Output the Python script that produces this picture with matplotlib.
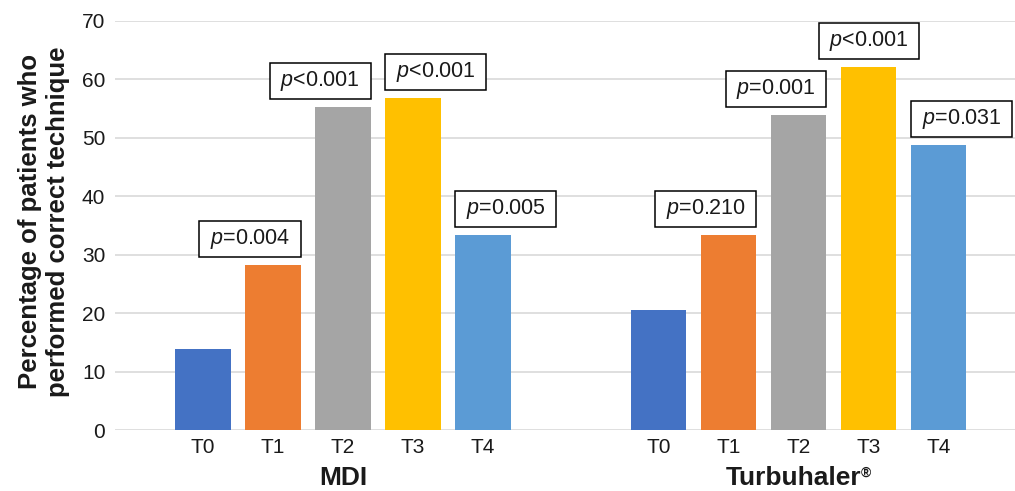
import matplotlib
matplotlib.use("Agg")
import matplotlib.pyplot as plt
from matplotlib.path import Path
import numpy as np

# ---- data ----
groups = ["MDI", "Turbuhaler"]
timepoints = ["T0", "T1", "T2", "T3", "T4"]
mdi_values = [13.8, 28.2, 55.3, 56.8, 33.3]
turbu_values = [20.6, 33.3, 53.8, 62.0, 48.7]
mdi_pvalues = [None, "=0.004", "<0.001", "<0.001", "=0.005"]
turbu_pvalues = [None, "=0.210", "=0.001", "<0.001", "=0.031"]
yticks = [0, 10, 20, 30, 40, 50, 60, 70]
ylabel = "Percentage of patients who\nperformed correct technique"

# ---- style ----
colors = ["#4472C4", "#ED7D31", "#A5A5A5", "#FFC000", "#5B9BD5"]
mdi_align = [None, "right", "right", "left", "left"]
turbu_align = [None, "right", "right", "center", "left"]

plt.rcParams["font.family"] = ["Liberation Sans", "DejaVu Sans"]
plt.rcParams["mathtext.fontset"] = "custom"
plt.rcParams["mathtext.rm"] = "Liberation Sans"
plt.rcParams["mathtext.it"] = "Liberation Sans:italic"
plt.rcParams["mathtext.bf"] = "Liberation Sans:bold"

TXT = "#1a1a1a"
GRID = "#D9D9D9"

fig = plt.figure(figsize=(10.15, 4.91), dpi=100)
ax = fig.add_axes([115 / 1015, (491 - 430) / 491, (1015 - 115) / 1015, (430 - 20.7) / 491])

GROUP_GAP = 6.514
BAR_W = 0.786
PADX, PADY = 10.5, 6.0


def rect_box(x0, y0, width, height, mutation_size):
    x0 -= PADX
    y0 -= PADY
    w = width + 2 * PADX
    h = height + 2 * PADY
    return Path([(x0, y0), (x0 + w, y0), (x0 + w, y0 + h), (x0, y0 + h), (x0, y0)], closed=True)


all_values = [mdi_values, turbu_values]
all_p = [mdi_pvalues, turbu_pvalues]
all_align = [mdi_align, turbu_align]
for g, vals in enumerate(all_values):
    xs = g * GROUP_GAP + np.arange(len(timepoints))
    ax.bar(xs, vals, width=BAR_W, color=colors, zorder=3)
    for x, v, p, al in zip(xs, vals, all_p[g], all_align[g]):
        if p is None:
            continue
        if al == "right":
            xa, dx = x + BAR_W / 2, -PADX
        elif al == "left":
            xa, dx = x - BAR_W / 2, PADX
        else:
            xa, dx = x, 0
        ax.annotate(r"$p$" + p, xy=(xa, v), xytext=(dx * 0.72, (8 + PADY) * 0.72),
                    textcoords="offset points", ha=al, va="bottom", fontsize=15.5, color=TXT,
                    bbox=dict(boxstyle=rect_box, fc="white", ec="black", lw=1.1), zorder=5)

# x ticks
tick_pos = []
tick_lab = []
for g in range(len(groups)):
    for i, t in enumerate(timepoints):
        tick_pos.append(g * GROUP_GAP + i)
        tick_lab.append(t)
ax.set_xticks(tick_pos)
ax.set_xticklabels(tick_lab, fontsize=15, color=TXT)
ax.tick_params(axis="x", length=0, pad=6)

ax.set_xlim((115 - 203) / 70, (1015 - 203) / 70)
ax.set_ylim(0, 70)
ax.set_yticks(yticks)
ax.set_yticklabels([str(v) for v in yticks], fontsize=15, color=TXT)
ax.tick_params(axis="y", length=0, pad=7)
ax.grid(axis="y", color=GRID, lw=1.2, zorder=0)
ax.set_axisbelow(True)
for s in ax.spines.values():
    s.set_visible(False)

ax.set_ylabel(ylabel, fontsize=18.5, fontweight="bold", color=TXT, linespacing=1.25)
ax.yaxis.label.set_va("center")
ax.yaxis.set_label_coords((44 - 115) / 900, 0.51)

# group labels
tr = matplotlib.transforms.blended_transform_factory(ax.transData, ax.transAxes)
centers = [g * GROUP_GAP + (len(timepoints) - 1) / 2 for g in range(len(groups))]
ax.text(centers[0], -0.117, groups[0], transform=tr, ha="center", va="center",
        fontsize=19, fontweight="bold", color=TXT)
t2 = ax.text(centers[1] - 0.08, -0.117, groups[1], transform=tr, ha="center", va="center",
             fontsize=19, fontweight="bold", color=TXT)
ax.annotate("®", xy=(1, 0.72), xycoords=t2, ha="left", va="center", fontsize=10,
            fontweight="bold", color=TXT)

fig.savefig("out.png", dpi=100)
